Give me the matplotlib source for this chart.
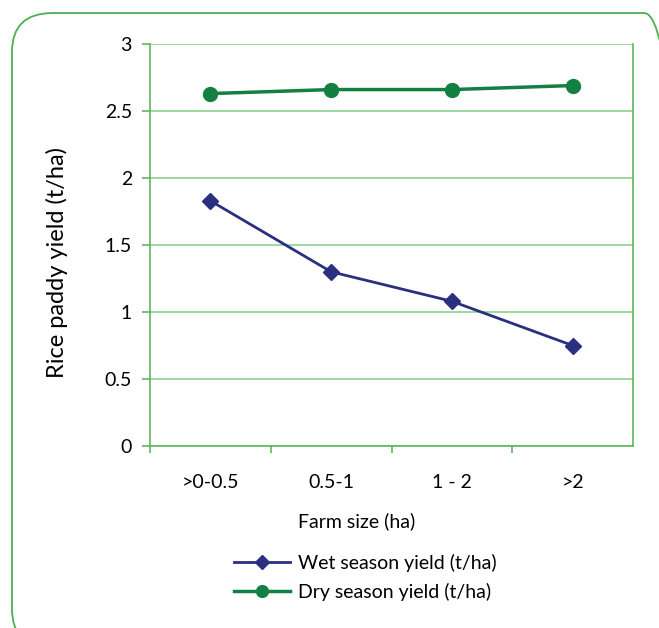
import numpy as np
import matplotlib; matplotlib.use("Agg")
import matplotlib.pyplot as plt
from matplotlib.patches import FancyBboxPatch

plt.rcParams.update({"font.family": ["Lato", "DejaVu Sans"]})

sizes = [">0-0.5", "0.5-1", "1 - 2", ">2"]
wet = [1.83, 1.30, 1.08, 0.75]
dry = [2.63, 2.66, 2.66, 2.69]

GRID = "#8fd18f"; SPINE = "#5cb85c"; FRAME = "#4caf50"
C_WET = "#2b2f7f"; C_DRY = "#138043"

fig = plt.figure(figsize=(6.59, 6.28), dpi=100)
# rounded green frame, right and bottom edges run off the image
fig.patches.append(FancyBboxPatch((12/659, -20/628), 673/659, (615 + 20)/628,
                                  boxstyle="round,pad=0,rounding_size=0.062",
                                  transform=fig.transFigure, fill=False,
                                  ec=FRAME, lw=1.3))
ax = fig.add_axes([150/659, 1 - 446/628, 483/659, 402/628])
x = np.arange(len(sizes))
ax.plot(x, wet, color=C_WET, lw=2, marker="D", ms=8, label="Wet season yield (t/ha)")
ax.plot(x, dry, color=C_DRY, lw=2.5, marker="o", ms=10, label="Dry season yield (t/ha)")

ax.set_xlim(-0.5, 3.5); ax.set_ylim(0, 3)
ax.set_yticks(np.arange(0, 3.01, 0.5))
ax.set_yticklabels(["0", "0.5", "1", "1.5", "2", "2.5", "3"])
ax.set_xticks([-0.5, 0.5, 1.5, 2.5]); ax.set_xticklabels([])
ax.set_xticks(x, minor=True); ax.set_xticklabels(sizes, minor=True)
ax.tick_params(axis="x", which="minor", length=0, pad=20, labelsize=14)
ax.tick_params(axis="x", which="major", length=5, color=SPINE, width=1.2)
ax.tick_params(axis="y", length=6, color=SPINE, width=1.2, labelsize=14, pad=7)
ax.grid(axis="y", color=GRID, lw=1.2)
ax.set_axisbelow(True)
for s in ax.spines.values():
    s.set_color(SPINE); s.set_linewidth(1.2)
ax.spines["top"].set_visible(False)

ax.set_ylabel("Rice paddy yield (t/ha)", fontsize=17)
ax.yaxis.set_label_coords((68 - 150)/483, (446 - 262)/402)
ax.set_xlabel("Farm size (ha)", fontsize=14)
ax.xaxis.set_label_coords((357 - 150)/483, -(512 - 446)/402)
ax.legend(loc="upper left", bbox_to_anchor=(216/659, 1 - 536/628), bbox_transform=fig.transFigure,
          frameon=False, fontsize=14, handlelength=2.9, labelspacing=0.6, handletextpad=0.4,
          markerscale=0.85)

fig.savefig("out.png", dpi=100)
